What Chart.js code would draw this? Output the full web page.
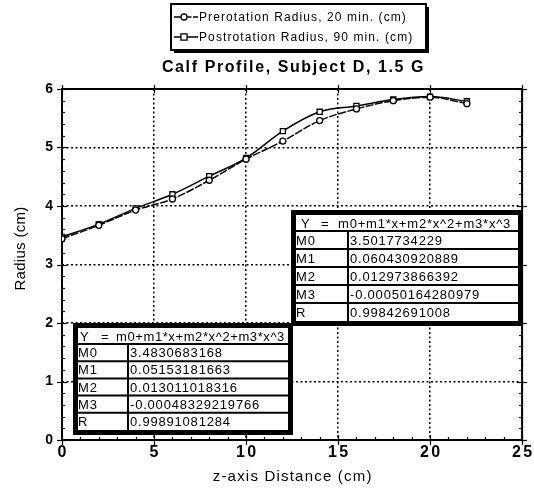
<!DOCTYPE html>
<html>
<head>
<meta charset="utf-8">
<title>Calf Profile, Subject D, 1.5 G</title>
<script src="https://cdn.jsdelivr.net/npm/chart.js@4.4.1/dist/chart.umd.min.js"></script>
<style>
  html, body { margin: 0; padding: 0; background: #fff; }
  #wrap { width: 534px; height: 488px; }
</style>
</head>
<body>
<div id="wrap"><canvas id="chart" width="534" height="488"></canvas></div>
<script>
// Measurement positions along the calf (cm)
const distance = [0, 2, 4, 6, 8, 10, 12, 14, 16, 18, 20, 22];
// Calf radius (cm) after 20 min. and after 90 min. of rotation
const preRadius  = [3.44, 3.67, 3.93, 4.12, 4.44, 4.80, 5.11, 5.46, 5.66, 5.80, 5.86, 5.75];
const postRadius = [3.47, 3.69, 3.96, 4.20, 4.51, 4.82, 5.28, 5.61, 5.71, 5.82, 5.87, 5.79];

const seriesNames = ['Prerotation Radius, 20 min. (cm)', 'Postrotation Radius, 90 min. (cm)'];
const chartTitle = 'Calf Profile, Subject D, 1.5 G';
const xTitle = 'z-axis Distance (cm)';
const yTitle = 'Radius (cm)';

// Axis ranges and tick spacing
const xRange = [0, 25];
const yRange = [0, 6];
const xStep = 5;
const yStep = 1;
const xMinorStep = 1;
const yMinorStep = 0.2;

// Cubic fit coefficients shown in the two tables
const fitEquation = 'm0+m1*x+m2*x^2+m3*x^3';
const fitTerms = ['M0', 'M1', 'M2', 'M3', 'R'];
const postFit = ['3.5017734229', '0.060430920889', '0.012973866392', '-0.00050164280979', '0.99842691008'];
const preFit  = ['3.4830683168', '0.05153181663', '0.013011018316', '-0.00048329219766', '0.99891081284'];

const FONT = '"Liberation Sans", Arial, Helvetica, sans-serif';

const toPoints = (ys) => distance.map((x, i) => ({ x, y: ys[i] }));

// Run a drawing method of a Chart.js element with extra letter spacing
function withSpacing(target, method, spacing, dx = 0, dy = 0) {
  if (!target || target['_spaced_' + method]) return;
  const orig = target[method];
  target[method] = function (...args) {
    const ctx = this.ctx;
    ctx.save();
    ctx.letterSpacing = spacing;
    ctx.translate(dx, dy);
    const r = orig.apply(this, args);
    ctx.restore();
    return r;
  };
  target['_spaced_' + method] = true;
}

function seg(ctx, x1, y1, x2, y2) {
  ctx.beginPath();
  ctx.moveTo(x1, y1);
  ctx.lineTo(x2, y2);
  ctx.stroke();
}

// Plot frame with major and minor tick marks
const framePlugin = {
  id: 'frame',
  afterLayout(chart) {
    withSpacing(chart.scales.x, 'drawLabels', '2.5px', 1.25, 0);
    withSpacing(chart.scales.x, 'drawTitle', '1.2px', 0.6, 0);
    withSpacing(chart.scales.y, 'drawTitle', '0.3px', 0, -16);
  },
  beforeDatasetsDraw(chart) {
    const { ctx, chartArea: a, scales: { x, y } } = chart;
    ctx.save();
    ctx.strokeStyle = '#000';
    ctx.lineWidth = 1.2;
    for (let v = yRange[0]; v <= yRange[1] + 1e-9; v += yMinorStep) {
      const py = Math.round(y.getPixelForValue(v)) + 0.5;
      const major = Math.abs(v / yStep - Math.round(v / yStep)) < 1e-6;
      if (major) {
        seg(ctx, a.left - 5, py, a.left + 5, py);
        seg(ctx, a.right - 5, py, a.right + 5, py);
      } else {
        seg(ctx, a.left, py, a.left + 3, py);
        seg(ctx, a.right - 3, py, a.right, py);
      }
    }
    for (let v = xRange[0]; v <= xRange[1] + 1e-9; v += xMinorStep) {
      const px = Math.round(x.getPixelForValue(v)) + 0.5;
      const major = Math.abs(v / xStep - Math.round(v / xStep)) < 1e-6;
      if (major) {
        seg(ctx, px, a.bottom - 5, px, a.bottom + 5);
        seg(ctx, px, a.top - 4, px, a.top + 4);
      } else {
        seg(ctx, px, a.bottom - 3, px, a.bottom);
      }
    }
    ctx.lineWidth = 2;
    ctx.strokeRect(a.left, a.top, a.right - a.left, a.bottom - a.top);
    ctx.restore();
  }
};

function drawFitTable(ctx, box, values) {
  const { left, top, right, bottom, split, headerH, hdr, spacing } = box;
  const frame = 5;
  const rowH = (bottom - frame - top - headerH) / fitTerms.length;
  ctx.save();
  ctx.fillStyle = '#fff';
  ctx.fillRect(left, top, right - left, bottom - top);
  ctx.strokeStyle = '#000';
  ctx.lineWidth = 2;
  for (let i = 0; i < fitTerms.length; i++) {
    const yy = top + headerH + i * rowH;
    seg(ctx, left, yy, right, yy);
  }
  seg(ctx, split, top + headerH, split, bottom);
  ctx.lineWidth = frame;
  ctx.strokeRect(left + frame / 2, top + frame / 2, right - left - frame, bottom - top - frame);

  ctx.fillStyle = '#000';
  ctx.font = `13px ${FONT}`;
  ctx.textBaseline = 'middle';
  ctx.textAlign = 'left';
  ctx.letterSpacing = spacing;
  const hy = top + (headerH + frame) / 2 + 1;
  ctx.fillText('Y', left + hdr[0], hy);
  ctx.fillText('=', left + hdr[1], hy);
  ctx.fillText(fitEquation, left + hdr[2], hy);
  ctx.letterSpacing = '0.8px';
  fitTerms.forEach((term, i) => {
    const yy = top + headerH + (i + 0.5) * rowH + 1;
    ctx.fillText(term, left + 5, yy);
    ctx.fillText(values[i], split + 2, yy);
  });
  ctx.restore();
}

// Title, boxed legend and the two fit tables
const notesPlugin = {
  id: 'notes',
  afterDraw(chart) {
    const { ctx, chartArea: a } = chart;
    ctx.save();

    // title
    ctx.fillStyle = '#000';
    ctx.font = `bold 16px ${FONT}`;
    ctx.letterSpacing = '1.6px';
    ctx.textAlign = 'center';
    ctx.textBaseline = 'middle';
    ctx.fillText(chartTitle, (a.left + a.right) / 2 + 1.5, 68);

    // legend box with drop shadow
    const L = { x: 171, y: 4, w: 255, h: 46 };
    ctx.fillStyle = '#000';
    ctx.fillRect(L.x + 3, L.y + 3, L.w, L.h);
    ctx.fillStyle = '#fff';
    ctx.fillRect(L.x, L.y, L.w, L.h);
    ctx.strokeStyle = '#000';
    ctx.lineWidth = 2;
    ctx.strokeRect(L.x, L.y, L.w, L.h);

    chart.data.datasets.forEach((ds, i) => {
      const yy = L.y + 13 + i * 20;
      ctx.save();
      ctx.strokeStyle = ds.borderColor;
      ctx.lineWidth = ds.borderWidth;
      ctx.setLineDash(ds.borderDash || []);
      seg(ctx, L.x + 3, yy, L.x + 27, yy);
      ctx.setLineDash([]);
      ctx.lineWidth = ds.pointBorderWidth;
      ctx.fillStyle = ds.pointBackgroundColor;
      const mx = L.x + 13;
      ctx.beginPath();
      if (ds.pointStyle === 'rect') {
        const r = ds.pointRadius * 0.85;
        ctx.rect(mx - r, yy - r, 2 * r, 2 * r);
      } else {
        ctx.arc(mx, yy, ds.pointRadius, 0, Math.PI * 2);
      }
      ctx.fill();
      ctx.stroke();
      ctx.restore();

      ctx.fillStyle = '#000';
      ctx.font = `12px ${FONT}`;
      ctx.letterSpacing = '1.1px';
      ctx.textAlign = 'left';
      ctx.textBaseline = 'middle';
      ctx.fillText(ds.label, L.x + 28, yy + 0.5);
    });
    ctx.restore();

    drawFitTable(ctx, { left: 291, top: 210, right: 523, bottom: 326, split: 348, headerH: 21, hdr: [10, 30, 47], spacing: '0.8px' }, postFit);
    drawFitTable(ctx, { left: 73, top: 323, right: 293, bottom: 435, split: 128, headerH: 21, hdr: [7, 28, 43], spacing: '0.6px' }, preFit);
  }
};

new Chart(document.getElementById('chart'), {
  type: 'scatter',
  data: {
    datasets: [
      {
        label: seriesNames[0],
        data: toPoints(preRadius),
        showLine: true,
        cubicInterpolationMode: 'monotone',
        borderColor: '#000',
        borderWidth: 1.5,
        borderDash: [8, 1.5],
        pointStyle: 'circle',
        pointRadius: 3,
        pointBorderWidth: 1.3,
        pointBorderColor: '#000',
        pointBackgroundColor: '#fff'
      },
      {
        label: seriesNames[1],
        data: toPoints(postRadius),
        showLine: true,
        cubicInterpolationMode: 'monotone',
        borderColor: '#000',
        borderWidth: 1.5,
        pointStyle: 'rect',
        pointRadius: 3.6,
        pointBorderWidth: 1.3,
        pointBorderColor: '#000',
        pointBackgroundColor: '#fff'
      }
    ]
  },
  options: {
    responsive: false,
    devicePixelRatio: 1,
    animation: false,
    layout: { padding: { top: 89, right: 11, left: 0, bottom: 0 } },
    plugins: {
      legend: { display: false },
      title: { display: false },
      tooltip: { enabled: false }
    },
    scales: {
      x: {
        type: 'linear',
        min: xRange[0],
        max: xRange[1],
        afterFit(s) { s.height = 48; },
        ticks: {
          stepSize: xStep,
          padding: 3,
          color: '#000',
          font: { family: FONT, size: 16, weight: 'bold' }
        },
        grid: { color: '#000', lineWidth: 1.5, drawTicks: false },
        border: { display: false, dash: [2, 2.5] },
        title: {
          display: true,
          text: xTitle,
          color: '#000',
          font: { family: FONT, size: 15 },
          padding: { top: 0, bottom: 2.5 }
        }
      },
      y: {
        type: 'linear',
        min: yRange[0],
        max: yRange[1],
        afterFit(s) { s.width = 62; },
        ticks: {
          stepSize: yStep,
          padding: 9,
          color: '#000',
          font: { family: FONT, size: 14, weight: 'bold' }
        },
        grid: { color: '#000', lineWidth: 1.5, drawTicks: false },
        border: { display: false, dash: [2, 2.5] },
        title: {
          display: true,
          text: yTitle,
          color: '#000',
          font: { family: FONT, size: 15 },
          padding: { top: 12, bottom: 0 }
        }
      }
    }
  },
  plugins: [framePlugin, notesPlugin]
});
</script>
</body>
</html>
